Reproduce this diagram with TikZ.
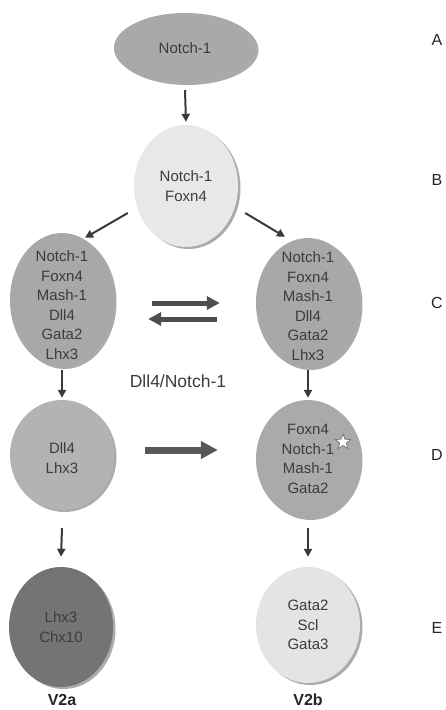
\documentclass[tikz,border=0pt]{standalone}
\usepackage{fontspec}
\setmainfont{Liberation Sans}
\usetikzlibrary{shapes.geometric,arrows.meta,shadows}
\definecolor{txt}{HTML}{3C3C3C}
\definecolor{arrowc}{HTML}{3A3A3A}
\definecolor{cellA}{HTML}{A9A9A9}
\definecolor{cellB}{HTML}{E8E8E8}
\definecolor{cellC}{HTML}{A8A8A8}
\definecolor{cellDl}{HTML}{B3B3B3}
\definecolor{cellDr}{HTML}{AAAAAA}
\definecolor{cellEl}{HTML}{747474}
\definecolor{cellEr}{HTML}{E4E4E4}
\begin{document}
\begin{tikzpicture}[x=1pt,y=-1pt,
  cell/.style={ellipse, inner sep=0pt,
    drop shadow={shadow xshift=2.5pt,shadow yshift=-2pt,fill=black!55,opacity=0.6}},
  celltext/.style={inner sep=0pt, align=center, text=txt, font=\fontsize{15}{19.5}\selectfont},
  thinarrow/.style={draw=arrowc, line width=2pt, -{Triangle[length=8pt,width=8pt]}},
  medarrow/.style={draw=arrowc!90, line width=5pt, -{Triangle[length=13pt,width=13pt]}},
  bigarrow/.style={draw=arrowc!85, line width=7pt, -{Triangle[length=17pt,width=17pt]}},
  lettr/.style={font=\fontsize{16}{18}\selectfont, text=black!85},
  vlab/.style={font=\bfseries\fontsize{16}{18}\selectfont, text=black!85}]
\useasboundingbox (0,0) rectangle (445,710);
\fill[white] (0,0) rectangle (445,710);

\node[cell, fill=cellA, minimum width=142pt, minimum height=70pt] (a) at (185,48) {};
\node[cell, fill=cellB, minimum width=104pt, minimum height=122pt] (b) at (186,186) {};
\node[cell, fill=cellC, minimum width=104pt, minimum height=134pt] (c1) at (62,300) {};
\node[cell, fill=cellC, minimum width=104pt, minimum height=130pt] (c2) at (308,303) {};
\node[cell, fill=cellDl, minimum width=104pt, minimum height=110pt] (d1) at (62,455) {};
\node[cell, fill=cellDr, minimum width=104pt, minimum height=118pt] (d2) at (308,459) {};
\node[cell, fill=cellEl, minimum width=104pt, minimum height=120pt] (e1) at (61,627) {};
\node[cell, fill=cellEr, minimum width=104pt, minimum height=116pt] (e2) at (308,625) {};

\node[celltext] (at) at (a) {Notch-1};
\node[celltext] (bt) at (b) {Notch-1\\Foxn4};
\node[celltext] (c1t) at ([yshift=-5pt]c1.center) {Notch-1\\Foxn4\\Mash-1\\Dll4\\Gata2\\Lhx3};
\node[celltext] (c2t) at ([yshift=-3pt]c2.center) {Notch-1\\Foxn4\\Mash-1\\Dll4\\Gata2\\Lhx3};
\node[celltext] (d1t) at ([yshift=-3pt]d1.center) {Dll4\\Lhx3};
\node[celltext] (d2t) at (d2) {Foxn4\\Notch-1\\Mash-1\\Gata2};
\node[celltext] (e1t) at (e1) {Lhx3\\Chx10};
\node[celltext] (e2t) at (e2) {Gata2\\Scl\\Gata3};

\node[star, star points=5, star point ratio=2.3, draw=black!55, fill=white, line width=0.7pt,
  minimum size=16pt, inner sep=0pt] (st) at (343,442) {};

% connectors
\draw[thinarrow] ([yshift=-7pt]a.south) -- ([yshift=3pt]b.north);
\draw[thinarrow] ([xshift=-6pt,yshift=-27pt]b.west) -- ([xshift=23pt,yshift=-5pt]c1.north);
\draw[thinarrow] ([xshift=7pt,yshift=-27pt]b.east) -- ([xshift=-23pt,yshift=1pt]c2.north);

\draw[medarrow, shorten <=38pt, shorten >=36pt] ([yshift=-3pt]c1.east) -- ([yshift=-3pt]c1.east -| c2.west);
\draw[medarrow, shorten <=39pt, shorten >=34pt] ([yshift=-19pt]c1.east -| c2.west) -- ([yshift=-19pt]c1.east);
\node[font=\fontsize{17.5}{20}\selectfont, text=txt] (lbl) at (178,381) {Dll4/Notch-1};

\draw[thinarrow] ([yshift=-3pt]c1.south) -- ([yshift=2pt]d1.north);
\draw[thinarrow] ([yshift=-2pt]c2.south) -- ([yshift=2pt]d2.north);

\draw[bigarrow, shorten <=31pt, shorten >=38pt] ([yshift=5pt]d1.east) -- ([yshift=5pt]d1.east -| d2.west);

\draw[thinarrow] ([yshift=-18pt]d1.south) -- ([yshift=10pt]e1.north);
\draw[thinarrow] ([yshift=-10pt]d2.south) -- ([yshift=10pt]e2.north);

% labels
\node[vlab] (v2a) at (62,700) {V2a};
\node[vlab] (v2b) at (308,700) {V2b};
\node[lettr] (la) at (437,40) {A};
\node[lettr] (lb) at (437,180) {B};
\node[lettr] (lc) at (437,303) {C};
\node[lettr] (ld) at (437,455) {D};
\node[lettr] (le) at (437,628) {E};
\end{tikzpicture}
\end{document}
